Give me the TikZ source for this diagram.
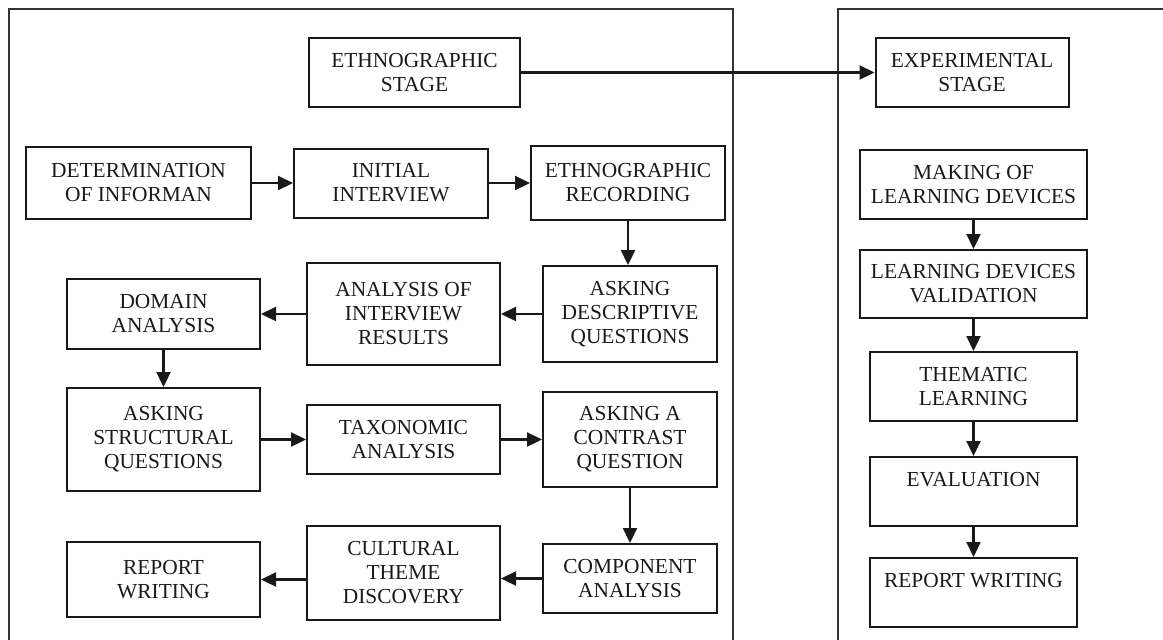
\documentclass[tikz,border=0pt]{standalone}
\usepackage{fontspec}
\setmainfont{Liberation Serif}
\usepackage{tikz}
\usetikzlibrary{positioning,arrows.meta}

\begin{document}
\begin{tikzpicture}[
  font=\fontsize{10.7pt}{12pt}\selectfont,
  node distance=20.5pt and 20.5pt,
  box/.style={draw, line width=1pt, black!90, text=black!90, align=center,
              inner sep=2pt, minimum height=34.5pt},
  colA/.style={box, minimum width=96.5pt},
  colB/.style={box, minimum width=87pt},
  colR/.style={box, minimum width=103.5pt},
  frame/.style={line width=0.7pt, black!80},
  arr/.style={-{Triangle[length=7.5pt,width=7pt]}, line width=1.1pt, black!90},
]
\useasboundingbox (0,0) rectangle (581.5pt,-319.5pt);
\clip (0,0) rectangle (581.5pt,-319.5pt);
% ---- stage frames ----------------------------------------------------
\draw[frame] (4.5pt,-330pt) |- (366.5pt,-4.5pt) -- (366.5pt,-330pt);
\draw[frame] (419pt,-330pt) |- (590pt,-4.5pt);
% ---- stage headers ---------------------------------------------------
\node[box, minimum width=105.5pt] (ethstage) at (207.25pt,-36.25pt)
  {ETHNOGRAPHIC\\STAGE};
\node[box, minimum width=96.5pt] (expstage) at (486pt,-36.25pt)
  {EXPERIMENTAL\\STAGE};
% ---- ethnographic stage: first row -----------------------------------
\node[box, minimum width=112.5pt, minimum height=36pt] (inform)
  at (69.25pt,-91.5pt) {DETERMINATION\\OF INFORMAN};
\node[box, minimum width=97pt, right=of inform] (initint)
  {INITIAL\\INTERVIEW};
\node[box, minimum width=97pt, minimum height=37pt, right=of initint] (record)
  {ETHNOGRAPHIC\\RECORDING};
% ---- second row ------------------------------------------------------
\node[colB, minimum height=48pt, below=22pt of record, xshift=1pt] (descq)
  {ASKING\\DESCRIPTIVE\\QUESTIONS};
\node[colA, minimum height=51pt, left=of descq] (intres)
  {ANALYSIS OF\\INTERVIEW\\RESULTS};
\node[colA, minimum height=35pt, left=22.5pt of intres] (domain)
  {DOMAIN\\ANALYSIS};
% ---- third row -------------------------------------------------------
\node[colA, minimum height=51.5pt, below=18.5pt of domain] (structq)
  {ASKING\\STRUCTURAL\\QUESTIONS};
\node[colA, right=22.5pt of structq] (taxo) {TAXONOMIC\\ANALYSIS};
\node[colB, minimum height=47.5pt, right=of taxo] (contrq)
  {ASKING A\\CONTRAST\\QUESTION};
% ---- fourth row ------------------------------------------------------
\node[colB, below=27.5pt of contrq] (compo) {COMPONENT\\ANALYSIS};
\node[colA, minimum height=47pt, left=of compo, yshift=2.75pt] (theme)
  {CULTURAL\\THEME\\DISCOVERY};
\node[colA, minimum height=37.5pt, left=22.5pt of theme, yshift=-3.25pt]
  (reportA) {REPORT\\WRITING};
% ---- experimental stage ----------------------------------------------
\node[box, minimum width=113.5pt] (making) at (486.75pt,-92.25pt)
  {MAKING OF\\LEARNING DEVICES};
\node[box, minimum width=113.5pt, minimum height=34pt, below=14.5pt of making]
  (valid) {LEARNING DEVICES\\VALIDATION};
\node[colR, below=16pt of valid] (thematic) {THEMATIC\\LEARNING};
\node[colR, below=17pt of thematic] (evalu) {EVALUATION\\\mbox{}};
\node[colR, below=15pt of evalu] (reportB) {REPORT WRITING\\\mbox{}};
% ---- edges -----------------------------------------------------------
\draw[arr] (ethstage) -- (expstage);
\draw[arr] (inform) -- (initint);
\draw[arr] (initint) -- (record);
\draw[arr] (record) -- (record |- descq.north);
\draw[arr] (descq) -- (intres);
\draw[arr] (intres) -- (domain);
\draw[arr] (domain) -- (structq);
\draw[arr] (structq) -- (taxo);
\draw[arr] (taxo) -- (contrq);
\draw[arr] (contrq) -- (compo);
\draw[arr] (compo.west) -- (compo.west -| theme.east);
\draw[arr] (theme.west |- reportA.east) -- (reportA.east);
\draw[arr] (making) -- (valid);
\draw[arr] (valid) -- (thematic);
\draw[arr] (thematic) -- (evalu);
\draw[arr] (evalu) -- (reportB);
\end{tikzpicture}
\end{document}
